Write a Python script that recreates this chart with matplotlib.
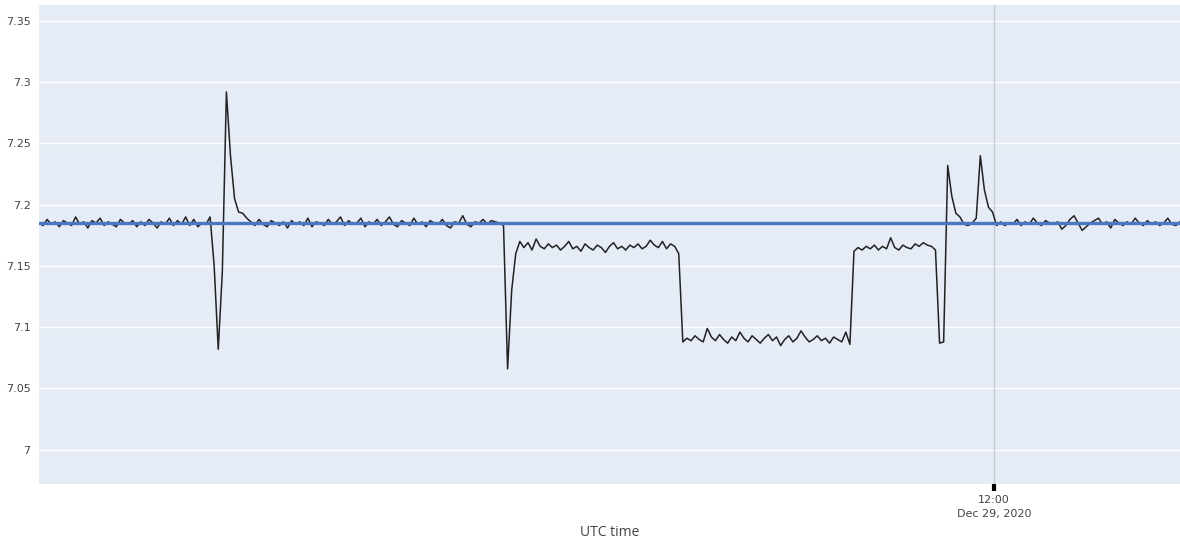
import matplotlib
matplotlib.use("Agg")
import matplotlib.pyplot as plt
import pandas as pd

# readings, one every 3 minutes, split by regime
base_1 = [7.185, 7.183, 7.188, 7.184, 7.186, 7.182, 7.187, 7.185, 7.183, 7.190,
          7.184, 7.186, 7.181, 7.187, 7.185, 7.189, 7.183, 7.186, 7.184, 7.182,
          7.188, 7.185, 7.184, 7.187, 7.182, 7.186, 7.183, 7.188, 7.185, 7.181,
          7.186, 7.184, 7.189, 7.183, 7.187, 7.184, 7.190, 7.183, 7.188, 7.182,
          7.185, 7.184]
spike_1 = [7.190, 7.150, 7.082, 7.145, 7.292, 7.240, 7.205, 7.194, 7.193, 7.189]
base_2 = [7.186, 7.183, 7.188, 7.184, 7.182, 7.187, 7.185, 7.183, 7.186, 7.181,
          7.187, 7.184, 7.186, 7.183, 7.189, 7.182, 7.186, 7.185, 7.183, 7.188,
          7.184, 7.186, 7.190, 7.183, 7.187, 7.184, 7.185, 7.189, 7.182, 7.186,
          7.184, 7.188, 7.183, 7.186, 7.190, 7.184, 7.182, 7.187, 7.185, 7.183,
          7.189, 7.184, 7.186, 7.182, 7.187, 7.185, 7.184, 7.188, 7.183, 7.181,
          7.186, 7.185, 7.191, 7.184, 7.182, 7.186, 7.185, 7.188, 7.184, 7.187,
          7.186, 7.185]
dip_2 = [7.183, 7.066, 7.130, 7.160]
plateau_hi_1 = [7.170, 7.165, 7.169, 7.163, 7.172, 7.166, 7.164, 7.168, 7.165, 7.167,
                7.163, 7.166, 7.170, 7.164, 7.166, 7.162, 7.168, 7.165, 7.163, 7.167,
                7.165, 7.161, 7.166, 7.169, 7.164, 7.166, 7.163, 7.167, 7.165, 7.168,
                7.164, 7.166, 7.171, 7.167, 7.165, 7.170, 7.164, 7.168, 7.166, 7.160]
plateau_lo = [7.088, 7.091, 7.089, 7.093, 7.090, 7.088, 7.099, 7.092, 7.089, 7.094,
              7.090, 7.087, 7.092, 7.089, 7.096, 7.091, 7.088, 7.093, 7.090, 7.087,
              7.091, 7.094, 7.089, 7.092, 7.085, 7.090, 7.093, 7.088, 7.091, 7.097,
              7.092, 7.088, 7.090, 7.093, 7.089, 7.091, 7.087, 7.092, 7.090, 7.088,
              7.096, 7.086]
plateau_hi_2 = [7.162, 7.165, 7.163, 7.166, 7.164, 7.167, 7.163, 7.166, 7.164, 7.173,
                7.165, 7.163, 7.167, 7.165, 7.164, 7.168, 7.166, 7.169, 7.167, 7.166]
event_3 = [7.163, 7.087, 7.088, 7.232, 7.207, 7.193, 7.190, 7.184, 7.183, 7.185,
           7.189, 7.240, 7.212, 7.198, 7.194, 7.183]
base_3 = [7.186, 7.183, 7.185, 7.184, 7.188, 7.183, 7.186, 7.184, 7.189, 7.185,
          7.183, 7.187, 7.185, 7.184, 7.186, 7.180, 7.183, 7.188, 7.191, 7.185,
          7.179, 7.182, 7.185, 7.187, 7.189, 7.184, 7.186, 7.181, 7.188, 7.185,
          7.183, 7.186, 7.184, 7.189, 7.185, 7.183, 7.187, 7.184, 7.186, 7.183,
          7.185, 7.189, 7.184, 7.183, 7.186]

reference_level = 7.185
start_time = "2020-12-29 00:17"
y_ticks = [7.0, 7.05, 7.1, 7.15, 7.2, 7.25, 7.3, 7.35]
y_labels = ["7", "7.05", "7.1", "7.15", "7.2", "7.25", "7.3", "7.35"]
x_tick = pd.Timestamp("2020-12-29 12:00")
x_tick_label = "12:00\nDec 29, 2020"

values = (base_1 + spike_1 + base_2 + dip_2 + plateau_hi_1 + plateau_lo
          + plateau_hi_2 + event_3 + base_3)
times = pd.date_range(start_time, periods=len(values), freq="3min")

plt.rcParams["font.family"] = ["DejaVu Sans"]

fig = plt.figure(figsize=(11.8, 5.4), dpi=100)
ax = fig.add_axes([0.033, 0.1037, 0.967, 0.887])
ax.set_facecolor("#e5ecf6")
for s in ax.spines.values():
    s.set_visible(False)

ax.set_yticks(y_ticks)
ax.set_yticklabels(y_labels)
ax.grid(axis="y", color="white", linewidth=1)
ax.set_axisbelow(True)
ax.tick_params(axis="y", length=0, pad=6, labelsize=8, labelcolor="#444444")

ax.axvline(x_tick, color="#c5c9d2", linewidth=1, zorder=1)
ax.plot(times, values, color="#222222", linewidth=1.1, zorder=2)
ax.axhline(reference_level, color="#4a78c0", linewidth=2.4, zorder=3)

ax.set_xlim(times[0], times[-1])
ax.set_ylim(6.972, 7.363)
ax.set_xticks([x_tick])
ax.set_xticklabels([x_tick_label], linespacing=1.45)
ax.tick_params(axis="x", length=5, width=3, color="black", pad=3,
               labelsize=8, labelcolor="#444444")
fig.text(0.5165, 0.013, "UTC time", ha="center", va="center",
         fontsize=10, color="#444444", family=["Open Sans", "DejaVu Sans"])

fig.savefig("out.png", dpi=100)
